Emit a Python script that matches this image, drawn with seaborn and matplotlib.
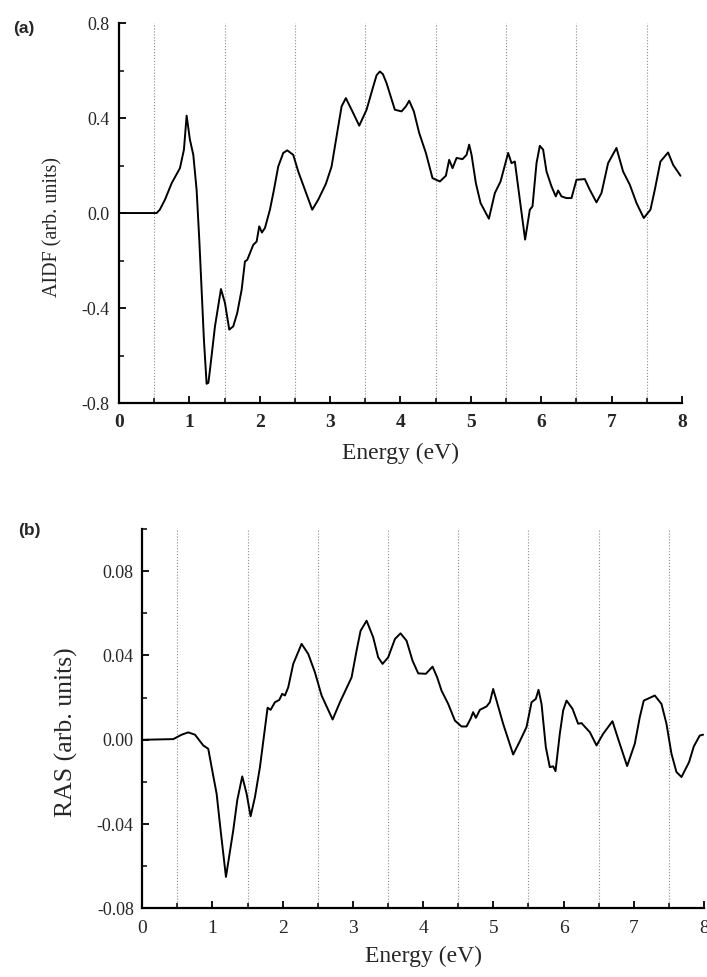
import numpy as np
import pandas as pd
import seaborn as sns
import matplotlib.pyplot as plt
from matplotlib.ticker import MultipleLocator

aidf_energy = [0.0, 0.535, 0.58, 0.653, 0.749, 0.866, 0.923, 0.961, 1.008, 1.056,
               1.103, 1.141, 1.174, 1.207, 1.245, 1.27, 1.293, 1.364, 1.449, 1.506,
               1.567, 1.624, 1.68, 1.743, 1.79, 1.823, 1.908, 1.956, 1.993, 2.031,
               2.074, 2.145, 2.202, 2.263, 2.334, 2.391, 2.476, 2.547, 2.642, 2.746,
               2.831, 2.94, 3.021, 3.092, 3.163, 3.224, 3.328, 3.414, 3.518, 3.613,
               3.66, 3.707, 3.75, 3.802, 3.92, 4.015, 4.077, 4.124, 4.19, 4.266, 4.361, 4.455,
               4.56, 4.645, 4.692, 4.74, 4.797, 4.882, 4.939, 4.976, 5.01, 5.071,
               5.138, 5.256, 5.341, 5.422, 5.53, 5.578, 5.625, 5.696, 5.771, 5.838,
               5.876, 5.933, 5.98, 6.027, 6.075, 6.146, 6.207, 6.24, 6.288, 6.359,
               6.43, 6.501, 6.619, 6.69, 6.785, 6.856, 6.95, 7.069, 7.163, 7.259,
               7.354, 7.457, 7.552, 7.614, 7.694, 7.803, 7.874, 7.979]
aidf_value = [0.0, 0.0, 0.014, 0.056, 0.126, 0.189, 0.267, 0.41, 0.309, 0.245,
              0.098, -0.112, -0.323, -0.534, -0.719, -0.715, -0.66, -0.477, -0.32, -0.379,
              -0.491, -0.477, -0.421, -0.323, -0.204, -0.197, -0.134, -0.12, -0.056, -0.082,
              -0.063, 0.014, 0.098, 0.196, 0.253, 0.264, 0.245, 0.175, 0.098, 0.014,
              0.056, 0.123, 0.196, 0.323, 0.449, 0.484, 0.421, 0.368, 0.435, 0.533,
              0.58, 0.596, 0.585, 0.547, 0.435, 0.428, 0.449, 0.473, 0.428, 0.337, 0.253, 0.147,
              0.133, 0.157, 0.224, 0.189, 0.232, 0.227, 0.245, 0.288, 0.245, 0.126,
              0.042, -0.024, 0.084, 0.133, 0.253, 0.21, 0.217, 0.056, -0.112, 0.014,
              0.028, 0.21, 0.283, 0.267, 0.175, 0.112, 0.07, 0.095, 0.07, 0.063,
              0.063, 0.14, 0.143, 0.098, 0.045, 0.084, 0.21, 0.274, 0.175, 0.119,
              0.042, -0.021, 0.014, 0.098, 0.217, 0.255, 0.203, 0.157]

ras_energy = [0.016, 0.443, 0.562, 0.656, 0.752, 0.87, 0.941, 0.989, 1.06, 1.117,
              1.193, 1.297, 1.354, 1.425, 1.487, 1.544, 1.606, 1.677, 1.738, 1.786,
              1.829, 1.89, 1.952, 1.994, 2.033, 2.08, 2.151, 2.27, 2.365, 2.46,
              2.555, 2.712, 2.816, 2.982, 3.053, 3.11, 3.196, 3.29, 3.361, 3.423,
              3.503, 3.599, 3.679, 3.765, 3.85, 3.931, 4.04, 4.135, 4.201, 4.263,
              4.358, 4.453, 4.548, 4.619, 4.676, 4.713, 4.752, 4.809, 4.904, 4.951,
              4.998, 5.046, 5.14, 5.283, 5.378, 5.473, 5.545, 5.606, 5.644, 5.687,
              5.748, 5.805, 5.852, 5.886, 5.947, 5.995, 6.043, 6.128, 6.208, 6.256,
              6.375, 6.47, 6.564, 6.697, 6.777, 6.906, 7.015, 7.086, 7.143, 7.229,
              7.3, 7.395, 7.466, 7.537, 7.608, 7.68, 7.788, 7.855, 7.94, 7.988]
ras_value = [0.0, 0.0003, 0.0024, 0.0035, 0.0024, -0.0027, -0.0043, -0.013, -0.0256, -0.043,
             -0.0651, -0.043, -0.0287, -0.0174, -0.0256, -0.0363, -0.0272, -0.013, 0.0028, 0.0152,
             0.0142, 0.0178, 0.0189, 0.0218, 0.021, 0.0249, 0.036, 0.0455, 0.0407, 0.032,
             0.021, 0.0096, 0.0178, 0.0296, 0.0423, 0.0517, 0.0565, 0.0486, 0.0391, 0.036,
             0.0391, 0.0478, 0.0505, 0.047, 0.0375, 0.0315, 0.0313, 0.0347, 0.0296, 0.0233,
             0.017, 0.0091, 0.0063, 0.0063, 0.0099, 0.0131, 0.0104, 0.0142, 0.0158, 0.0178,
             0.0241, 0.0186, 0.0076, -0.007, -0.0007, 0.006, 0.0178, 0.0194, 0.0237, 0.017,
             -0.0035, -0.013, -0.0126, -0.0149, 0.0028, 0.0139, 0.0186, 0.0147, 0.0076, 0.0079,
             0.0036, -0.0027, 0.0028, 0.0088, 0.0005, -0.0125, -0.0019, 0.0107, 0.0186, 0.0199,
             0.021, 0.017, 0.0076, -0.0066, -0.0153, -0.0177, -0.0106, -0.0032, 0.002, 0.0024]

aidf_ticks = [-0.8, -0.4, 0.0, 0.4, 0.8]
ras_ticks = [-0.08, -0.04, 0.00, 0.04, 0.08]
energy_ticks = [0, 1, 2, 3, 4, 5, 6, 7, 8]

df_a = pd.DataFrame({"Energy": aidf_energy, "AIDF": aidf_value})
df_b = pd.DataFrame({"Energy": ras_energy, "RAS": ras_value})

sns.set_style("ticks")
plt.rcParams["font.family"] = ["Liberation Serif", "DejaVu Serif"]

fig = plt.figure(figsize=(7.07, 9.77), dpi=100)
ax_a = fig.add_axes([0.1683, 0.5875, 0.7963, 0.3889])
ax_b = fig.add_axes([0.2011, 0.0703, 0.7946, 0.3882])


def style_axis(ax, ylim, yticks, ymin_step, fmt):
    ax.set_xlim(0, 8)
    ax.set_ylim(*ylim)
    ax.set_xticks(energy_ticks)
    ax.xaxis.set_minor_locator(MultipleLocator(0.5))
    ax.set_yticks(yticks)
    ax.yaxis.set_minor_locator(MultipleLocator(ymin_step))
    ax.set_yticklabels([fmt.format(t) for t in yticks])
    for side in ["top", "right"]:
        ax.spines[side].set_visible(False)
    for side in ["left", "bottom"]:
        ax.spines[side].set_linewidth(1.6)
        ax.spines[side].set_color("black")
    ax.tick_params(which="major", direction="in", length=5, width=1.3, color="black")
    ax.tick_params(which="minor", direction="in", length=3.5, width=1.1, color="black")
    ax.xaxis.grid(True, which="minor", linestyle=":", color="0.55", linewidth=0.8)
    ax.xaxis.grid(False, which="major")
    ax.yaxis.grid(False)


# (a) AIDF
sns.lineplot(data=df_a, x="Energy", y="AIDF", ax=ax_a, color="black", linewidth=1.4, sort=False)
style_axis(ax_a, (-0.8, 0.8), aidf_ticks, 0.2, "{:.1f}")
ax_a.set_xticklabels([str(t) for t in energy_ticks], fontsize=14, fontweight="bold")
ax_a.tick_params(axis="x", pad=8)
ax_a.tick_params(axis="y", pad=7, labelsize=13)
ax_a.set_xlabel("Energy (eV)", fontsize=17)
ax_a.set_ylabel("AIDF (arb. units)", fontsize=14.5)
ax_a.xaxis.set_label_coords(0.5, -0.105)
ax_a.yaxis.set_label_coords(-0.10, 0.464)
fig.text(0.034, 0.9708, "(a)", fontsize=12.5, fontweight="bold",
         family="Liberation Sans", ha="center", va="center")

# (b) RAS
sns.lineplot(data=df_b, x="Energy", y="RAS", ax=ax_b, color="black", linewidth=1.4, sort=False)
style_axis(ax_b, (-0.08, 0.1), ras_ticks, 0.02, "{:.2f}")
ax_b.set_xticklabels([str(t) for t in energy_ticks], fontsize=14)
ax_b.tick_params(axis="x", pad=8.5)
ax_b.tick_params(axis="y", pad=6, labelsize=13)
ax_b.set_xlabel("Energy (eV)", fontsize=17)
ax_b.set_ylabel("RAS (arb. units)", fontsize=18.5)
ax_b.xaxis.set_label_coords(0.5, -0.098)
ax_b.yaxis.set_label_coords(-0.114, 0.465)
fig.text(0.041, 0.4575, "(b)", fontsize=12.5, fontweight="bold",
         family="Liberation Sans", ha="center", va="center")

fig.savefig("out.png", dpi=100)
